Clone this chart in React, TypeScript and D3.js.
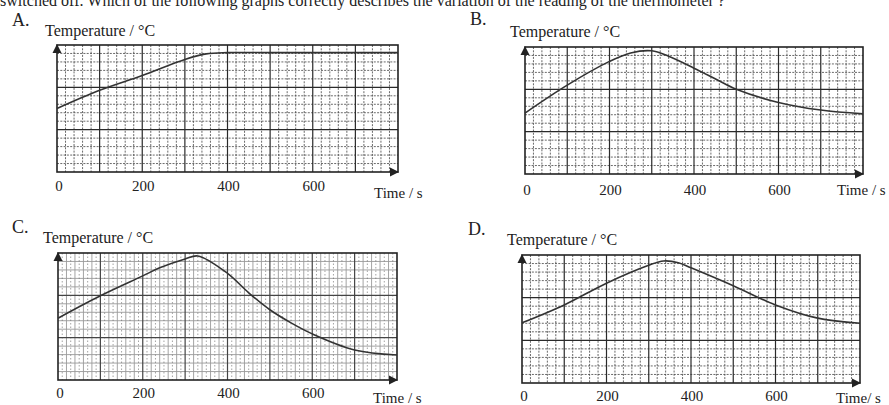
import React, { useRef, useEffect } from "react";
import * as d3 from "d3";

// temperature readings (time in s, temperature in grid units 0-30)
const timesA = [0, 100, 200, 300, 350, 400, 500, 600, 700, 800];
const tempsA = [15, 19.3, 22.8, 26.6, 27.9, 28.2, 28.2, 28.2, 28.2, 28.2];

const timesB = [0, 100, 200, 250, 300, 340, 400, 450, 500, 600, 700, 800];
const tempsB = [14.4, 21.0, 26.6, 28.6, 29.1, 27.8, 25.0, 22.5, 20.0, 16.9, 15.1, 14.2];

const timesC = [0, 100, 200, 240, 300, 330, 400, 450, 500, 550, 600, 700, 800];
const tempsC = [14.6, 19.9, 24.6, 26.5, 28.6, 29.3, 25.2, 20.6, 16.6, 13.5, 10.9, 7.1, 5.9];

const timesD = [0, 100, 200, 300, 335, 370, 400, 500, 600, 700, 800];
const tempsD = [14.1, 18.3, 23.4, 27.6, 28.6, 28.2, 27.0, 22.8, 18.3, 15.2, 14.0];

const tickLabels = [0, 200, 400, 600];
const letters = ["A.", "B.", "C.", "D."];
const timeLabels = ["Time / s", "Time / s", "Time / s", "Time/ s"];
const yTitle = "Temperature / °C";
const question =
  "switched off.  Which of the following graphs correctly describes the variation of the reading of the thermometer ?";

// layout of the four panels
const layout = [
  { x0: 57, x1: 398, y0: 45, y1: 172, lx: 12, ly: 26, tx: 45, ty: 36, tickY: 191, timeX: 374, timeY: 198, light: false },
  { x0: 525, x1: 863, y0: 47, y1: 174, lx: 470, ly: 25, tx: 510, ty: 37, tickY: 195, timeX: 837, timeY: 195, light: false },
  { x0: 58, x1: 397, y0: 253, y1: 380, lx: 12, ly: 233, tx: 43, ty: 243, tickY: 398, timeX: 373, timeY: 403, light: true },
  { x0: 522, x1: 860, y0: 255, y1: 383, lx: 468, ly: 235, tx: 507, ty: 245, tickY: 401, timeX: 836, timeY: 403, light: false },
];

const series = [
  { times: timesA, temps: tempsA },
  { times: timesB, temps: tempsB },
  { times: timesC, temps: tempsC },
  { times: timesD, temps: tempsD },
];

function App() {
  const svgRef = useRef();

  useEffect(() => {
    const svg = d3.select(svgRef.current);
    svg.selectAll("*").remove();

    const font = "'Liberation Serif', 'Times New Roman', serif";
    const ink = "#222";

    svg.append("text")
      .attr("x", 0)
      .attr("y", 6)
      .attr("textLength", 725)
      .attr("lengthAdjust", "spacingAndGlyphs")
      .style("font-family", font)
      .style("font-size", 17)
      .style("fill", ink)
      .text(question);

    layout.forEach((p, i) => {
      const xScale = d3.scaleLinear().domain([0, 800]).range([p.x0, p.x1]);
      const yScale = d3.scaleLinear().domain([0, 30]).range([p.y1, p.y0]);
      const g = svg.append("g");

      // minor grid
      const minor = g.append("g")
        .attr("stroke", p.light ? "#9a9a9a" : "#444")
        .attr("stroke-width", p.light ? 0.9 : 0.8)
        .attr("stroke-dasharray", p.light ? null : "2,1.3");
      minor.selectAll(".vx")
        .data(d3.range(0, 801, 20).filter(d => d % 100 !== 0))
        .join("line")
        .attr("x1", d => xScale(d)).attr("x2", d => xScale(d))
        .attr("y1", p.y0).attr("y2", p.y1);
      minor.selectAll(".hy")
        .data(d3.range(0, 31, 2).filter(d => d % 10 !== 0))
        .join("line")
        .attr("y1", d => yScale(d)).attr("y2", d => yScale(d))
        .attr("x1", p.x0).attr("x2", p.x1);

      if (p.light) {
        const extra = g.append("g")
          .attr("stroke", "#666")
          .attr("stroke-width", 0.6)
          .attr("stroke-dasharray", "1.5,2");
        extra.selectAll("line")
          .data(d3.range(10, 801, 20))
          .join("line")
          .attr("x1", d => xScale(d)).attr("x2", d => xScale(d))
          .attr("y1", p.y0).attr("y2", p.y1);
      }

      // major grid
      const major = g.append("g")
        .attr("stroke", p.light ? "#444" : "#2a2a2a")
        .attr("stroke-width", 1.2);
      major.selectAll(".mx")
        .data(d3.range(100, 800, 100))
        .join("line")
        .attr("x1", d => xScale(d)).attr("x2", d => xScale(d))
        .attr("y1", p.y0).attr("y2", p.y1);
      major.selectAll(".my")
        .data([10, 20])
        .join("line")
        .attr("y1", d => yScale(d)).attr("y2", d => yScale(d))
        .attr("x1", p.x0).attr("x2", p.x1);

      g.append("rect")
        .attr("x", p.x0).attr("y", p.y0)
        .attr("width", p.x1 - p.x0).attr("height", p.y1 - p.y0)
        .attr("fill", "none")
        .attr("stroke", "#222")
        .attr("stroke-width", 1.6);

      // axis arrows
      g.append("path")
        .attr("d", `M${p.x0},${p.y0 - 1} L${p.x0 - 4.5},${p.y0 + 8} L${p.x0 + 4.5},${p.y0 + 8} Z`)
        .attr("fill", "#222");
      g.append("path")
        .attr("d", `M${p.x1 + 1},${p.y1} L${p.x1 - 8},${p.y1 - 4.5} L${p.x1 - 8},${p.y1 + 4.5} Z`)
        .attr("fill", "#222");

      // curve
      const s = series[i];
      const pts = s.times.map((t, k) => [t, s.temps[k]]);
      g.append("path")
        .datum(pts)
        .attr("d", d3.line()
          .x(d => xScale(d[0]))
          .y(d => yScale(d[1]))
          .curve(d3.curveCatmullRom.alpha(0.5)))
        .attr("fill", "none")
        .attr("stroke", "#333")
        .attr("stroke-width", 1.6);

      // texts
      g.append("text")
        .attr("x", p.lx).attr("y", p.ly)
        .style("font-family", font).style("font-size", 18).style("fill", ink)
        .text(letters[i]);
      g.append("text")
        .attr("x", p.tx).attr("y", p.ty)
        .style("font-family", font).style("font-size", 16).style("fill", ink)
        .text(yTitle);
      g.selectAll(".tick")
        .data(tickLabels)
        .join("text")
        .attr("x", d => xScale(d) + (d === 0 ? 2 : 1))
        .attr("y", p.tickY)
        .attr("text-anchor", "middle")
        .style("font-family", font).style("font-size", 15).style("fill", ink)
        .text(d => d);
      g.append("text")
        .attr("x", p.timeX).attr("y", p.timeY)
        .style("font-family", font).style("font-size", 15).style("fill", ink)
        .text(timeLabels[i]);
    });
  }, []);

  return (
    <div style={{ position: "absolute", left: 0, top: 0, background: "#fff" }}>
      <svg ref={svgRef} width={889} height={405} style={{ display: "block" }}></svg>
    </div>
  );
}

export default App;
